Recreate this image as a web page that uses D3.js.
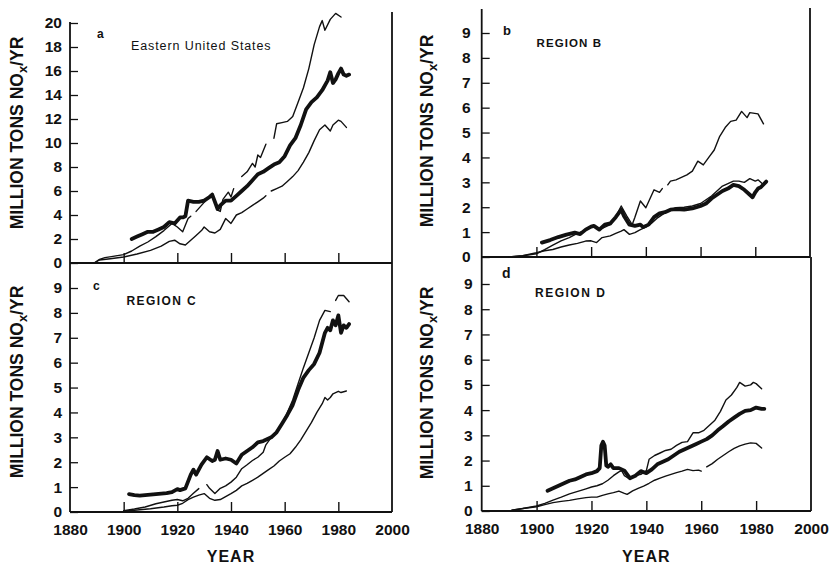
<!DOCTYPE html>
<html><head><meta charset="utf-8">
<script src="https://cdn.jsdelivr.net/npm/d3@7"></script>
<style>
body{margin:0;background:#fff}
svg{display:block}
text{font-family:"Liberation Sans",Arial,Helvetica,sans-serif;fill:#111}
</style>
</head><body>
<svg id="chart" width="835" height="566"></svg>
<script>
// ---------- DATA (year, million tons NOx / yr) ----------
const xTickValues = [1880, 1900, 1920, 1940, 1960, 1980, 2000];
const xInnerTicks = [1900, 1920, 1940, 1960, 1980];
const yTicksA = [0, 2, 4, 6, 8, 10, 12, 14, 16, 18, 20];
const yTicksRegion = [0, 1, 2, 3, 4, 5, 6, 7, 8, 9];
const panelLetters = ["a", "b", "c", "d"];
const panelTitles = ["Eastern United States", "REGION B", "REGION C", "REGION D"];
const yTitle = "MILLION TONS NO";
const xTitle = "YEAR";

// Panel a : Eastern United States
const aMid = [[1903,2.0],[1905,2.2],[1907,2.4],[1909,2.6],[1911,2.6],[1913,2.8],[1915,3.0],[1917,3.4],[1919,3.3],[1921,3.8],[1922,3.8],[1923,3.9],[1924,5.2],[1926,5.1],[1928,5.1],[1930,5.2],[1932,5.5],[1933,5.7],[1935,4.5],[1936,4.8],[1938,5.2],[1940,5.2],[1942,5.6],[1944,6.0],[1946,6.4],[1948,6.9],[1950,7.4],[1952,7.6],[1954,7.9],[1956,8.2],[1958,8.4],[1960,8.9],[1962,9.8],[1964,10.4],[1966,11.5],[1968,12.8],[1970,13.4],[1972,13.8],[1974,14.4],[1976,15.2],[1977,15.9],[1978,15.0],[1979,15.3],[1980,15.8],[1981,16.2],[1982,15.7],[1983,15.6],[1984,15.7]];
const aHigh = [[1889,0],[1891,0.3],[1893,0.45],[1896,0.55],[1900,0.7],[1903,1.0],[1906,1.4],[1909,1.75],[1912,2.2],[1915,2.7],[1918,3.3],[1920,3.0],[1922,2.6],[1924,3.7],[1925,3.9],[1926,null],[1927,4.3],[1929,4.8],[1931,5.3],[1933,5.8],[1935,4.4],[1936,4.3],[1937,5.3],[1939,5.9],[1940,5.5],[1941,6.2],[1942,null],[1944,7.2],[1946,7.6],[1948,8.3],[1949,8.0],[1950,9.0],[1951,8.8],[1953,9.9],[1954,null],[1956,10.4],[1957,11.6],[1959,11.7],[1961,11.8],[1963,12.2],[1965,13.4],[1967,14.6],[1969,16.2],[1971,18.2],[1973,19.7],[1974,20.2],[1975,19.4],[1977,20.3],[1979,20.8],[1981,20.5]];
const aLow = [[1889,0],[1891,0.25],[1895,0.35],[1900,0.5],[1905,0.75],[1910,1.05],[1914,1.4],[1917,1.8],[1919,1.9],[1921,1.6],[1923,1.5],[1925,1.9],[1927,2.3],[1929,2.7],[1930,3.0],[1932,2.6],[1934,2.5],[1936,2.8],[1938,3.7],[1940,3.3],[1942,4.0],[1944,4.2],[1946,4.5],[1948,4.8],[1950,5.1],[1952,5.4],[1953,5.6],[1954,null],[1955,6.0],[1957,6.2],[1959,6.4],[1961,6.8],[1963,7.2],[1965,7.7],[1967,8.4],[1969,9.2],[1971,10.2],[1973,11.1],[1975,11.5],[1977,11.0],[1978,11.5],[1980,11.9],[1981,11.8],[1983,11.3]];

// Panel b : Region B
const bMid = [[1902,0.58],[1905,0.68],[1908,0.8],[1911,0.9],[1914,0.98],[1916,0.92],[1918,1.1],[1920,1.22],[1921,1.25],[1923,1.1],[1925,1.3],[1927,1.35],[1929,1.6],[1931,1.9],[1932,1.65],[1934,1.3],[1936,1.25],[1938,1.3],[1939,1.2],[1941,1.3],[1943,1.6],[1945,1.75],[1947,1.8],[1949,1.9],[1951,1.92],[1954,1.9],[1957,1.95],[1960,2.05],[1962,2.15],[1964,2.35],[1966,2.5],[1968,2.65],[1970,2.75],[1972,2.9],[1974,2.85],[1976,2.7],[1978,2.5],[1979,2.4],[1980,2.6],[1981,2.75],[1982,2.8],[1984,3.03]];
const bHigh = [[1890,0],[1895,0.05],[1900,0.13],[1903,0.3],[1906,0.48],[1909,0.65],[1912,0.78],[1915,0.95],[1917,1.04],[1919,1.15],[1921,1.24],[1923,1.1],[1925,1.2],[1927,1.3],[1929,1.6],[1931,2.05],[1933,1.65],[1935,1.3],[1936,1.6],[1938,2.25],[1940,1.98],[1943,2.7],[1945,2.6],[1946,2.75],[1947,null],[1948,2.9],[1949,3.05],[1951,3.1],[1953,3.2],[1955,3.3],[1957,3.45],[1959,3.85],[1961,3.7],[1963,4.0],[1965,4.3],[1967,4.85],[1969,5.2],[1971,5.45],[1973,5.5],[1975,5.85],[1977,5.6],[1978,5.8],[1981,5.75],[1983,5.35]];
const bLow = [[1890,0],[1895,0.05],[1900,0.17],[1903,0.25],[1906,0.3],[1909,0.4],[1912,0.48],[1915,0.55],[1918,0.64],[1920,0.65],[1922,0.58],[1924,0.78],[1927,0.85],[1929,0.95],[1931,1.04],[1932,1.1],[1934,0.91],[1936,0.98],[1938,1.1],[1940,1.2],[1942,1.35],[1944,1.55],[1946,1.7],[1948,1.85],[1951,1.98],[1954,2.0],[1957,2.05],[1960,2.15],[1962,2.3],[1964,2.45],[1966,2.65],[1968,2.85],[1970,2.95],[1972,3.05],[1974,3.05],[1976,3.0],[1978,3.15],[1980,3.05],[1981,3.1],[1983,2.9]];

// Panel c : Region C
const cMid = [[1902,0.72],[1904,0.68],[1906,0.66],[1908,0.68],[1910,0.7],[1912,0.72],[1914,0.74],[1916,0.76],[1918,0.8],[1920,0.92],[1921,0.88],[1923,0.95],[1925,1.5],[1926,1.7],[1927,1.5],[1929,1.9],[1931,2.2],[1933,2.05],[1934,2.1],[1935,2.45],[1936,2.1],[1938,2.15],[1940,2.1],[1942,1.95],[1944,2.3],[1946,2.45],[1948,2.6],[1950,2.8],[1952,2.85],[1955,3.0],[1957,3.2],[1959,3.55],[1961,3.9],[1963,4.3],[1965,4.9],[1967,5.4],[1969,5.7],[1971,5.95],[1973,6.4],[1975,7.2],[1976,7.4],[1977,7.3],[1978,7.7],[1979,7.5],[1980,7.9],[1981,7.2],[1982,7.5],[1983,7.4],[1984,7.55]];
const cHigh = [[1900,0.05],[1904,0.12],[1908,0.2],[1912,0.33],[1915,0.4],[1918,0.47],[1920,0.5],[1922,0.45],[1924,0.55],[1926,0.75],[1928,0.94],[1929,null],[1931,1.1],[1932,0.95],[1934,0.74],[1936,0.95],[1938,1.05],[1940,1.2],[1942,1.4],[1944,1.74],[1946,1.9],[1948,2.07],[1950,2.2],[1952,2.4],[1953,2.7],[1955,3.0],[1957,3.25],[1959,3.55],[1961,4.0],[1963,4.5],[1965,5.15],[1967,5.8],[1969,6.4],[1971,7.0],[1973,7.7],[1975,8.1],[1977,8.05],[1978,null],[1979,8.5],[1980,8.7],[1982,8.7],[1984,8.45]];
const cLow = [[1900,0.03],[1905,0.08],[1910,0.13],[1915,0.2],[1918,0.25],[1920,0.27],[1922,0.35],[1924,0.5],[1926,0.6],[1928,0.68],[1930,0.74],[1932,0.55],[1934,0.47],[1936,0.5],[1938,0.62],[1940,0.74],[1942,0.87],[1944,1.05],[1946,1.15],[1948,1.27],[1950,1.4],[1952,1.55],[1954,1.7],[1956,1.85],[1958,2.05],[1960,2.2],[1962,2.34],[1964,2.6],[1966,2.9],[1968,3.25],[1970,3.6],[1972,4.0],[1974,4.35],[1975,4.6],[1976,4.5],[1977,4.6],[1978,4.75],[1980,4.85],[1981,4.8],[1983,4.86]];

// Panel d : Region D
const dMid = [[1904,0.8],[1906,0.9],[1908,1.0],[1910,1.1],[1912,1.2],[1914,1.25],[1916,1.35],[1918,1.45],[1920,1.5],[1922,1.58],[1923,1.7],[1923.6,2.6],[1924.2,2.75],[1924.8,2.6],[1925.4,1.8],[1926,1.75],[1927,1.85],[1928,1.7],[1930,1.7],[1932,1.6],[1933,1.45],[1934,1.3],[1936,1.4],[1938,1.58],[1940,1.5],[1942,1.65],[1944,1.85],[1946,1.95],[1948,2.05],[1950,2.2],[1952,2.35],[1954,2.45],[1956,2.55],[1958,2.65],[1960,2.75],[1962,2.85],[1964,3.0],[1966,3.2],[1968,3.37],[1970,3.55],[1972,3.7],[1974,3.85],[1976,3.97],[1978,4.0],[1980,4.1],[1982,4.05],[1983,4.05]];
const dHigh = [[1891,0.03],[1895,0.1],[1900,0.2],[1903,0.3],[1906,0.43],[1909,0.55],[1912,0.68],[1915,0.78],[1918,0.88],[1920,0.95],[1922,1.0],[1924,1.08],[1926,1.22],[1928,1.4],[1930,1.55],[1931,1.6],[1932,1.4],[1934,1.26],[1936,1.4],[1938,1.45],[1940,1.6],[1941,2.05],[1943,2.2],[1945,2.3],[1947,2.4],[1949,2.45],[1951,2.6],[1953,2.72],[1955,2.75],[1957,3.1],[1959,3.1],[1961,3.2],[1963,3.4],[1965,3.6],[1967,3.95],[1969,4.4],[1971,4.6],[1973,4.9],[1974,5.1],[1976,4.95],[1978,5.0],[1979,5.1],[1980,5.05],[1982,4.85]];
const dLow = [[1891,0.03],[1895,0.1],[1900,0.17],[1903,0.25],[1906,0.33],[1909,0.38],[1912,0.42],[1915,0.48],[1918,0.53],[1920,0.55],[1922,0.55],[1924,0.62],[1926,0.68],[1928,0.73],[1930,0.79],[1932,0.7],[1933,0.66],[1935,0.8],[1937,0.9],[1939,0.99],[1941,1.1],[1943,1.22],[1945,1.3],[1947,1.38],[1949,1.45],[1951,1.52],[1953,1.58],[1955,1.65],[1957,1.6],[1959,1.62],[1960,1.58],[1961,null],[1962,1.75],[1964,1.88],[1966,2.05],[1968,2.2],[1970,2.35],[1972,2.48],[1974,2.58],[1976,2.65],[1978,2.7],[1980,2.68],[1982,2.5]];

// ---------- LAYOUT ----------
const panels = [
  {x0:70, x1:392, yb:263, yt:23, ymax:20, axisTop:22, rightTop:12, yTicks:yTicksA, xLabels:false, yPad:8,
   letter:[97,38,12], title:[131,50], titleStyle:{size:12.5, weight:"normal", ls:0.9}, yTitle:[23,133],
   series:[[aHigh,1.4],[aLow,1.4],[aMid,3.8]]},
  {x0:481.7, x1:810, yb:257, yt:33, ymax:9, axisTop:9, rightTop:8, yTicks:yTicksRegion, xLabels:false, yPad:11,
   letter:[503,35,13], title:[536.5,47], titleStyle:{size:11.5, weight:"bold", ls:1.1}, yTitle:[433,131],
   series:[[bHigh,1.4],[bLow,1.4],[bMid,3.8]]},
  {x0:70, x1:392, yb:512, yt:288, ymax:9, axisTop:263, rightTop:263, yTicks:yTicksRegion, xLabels:true, xPad:11.5, yPad:8,
   letter:[93,290,12], title:[126.5,305], titleStyle:{size:12, weight:"bold", ls:1.4}, yTitle:[23,382],
   series:[[cHigh,1.4],[cLow,1.4],[cMid,3.8]]},
  {x0:481.7, x1:811, yb:511, yt:284, ymax:9, axisTop:257, rightTop:257, yTicks:yTicksRegion, xLabels:true, xPad:11.5, yPad:9,
   letter:[502,278,14], title:[535,297], titleStyle:{size:12, weight:"bold", ls:1.5}, yTitle:[433,383],
   series:[[dHigh,1.4],[dLow,1.4],[dMid,3.8]]}
];

const svg = d3.select("#chart");
const ink = "#111";

panels.forEach((p, i) => {
  const x = d3.scaleLinear().domain([xTickValues[0], xTickValues[xTickValues.length-1]]).range([p.x0, p.x1]);
  const y = d3.scaleLinear().domain([0, p.ymax]).range([p.yb, p.yt]);
  const g = svg.append("g");

  // frame lines
  g.append("line").attr("x1", p.x0).attr("x2", p.x0).attr("y1", p.axisTop).attr("y2", p.yb)
    .attr("stroke", ink).attr("stroke-width", 1.8);
  g.append("line").attr("x1", p.x1).attr("x2", p.x1).attr("y1", p.rightTop).attr("y2", p.yb)
    .attr("stroke", ink).attr("stroke-width", 1.8);
  g.append("line").attr("x1", p.x0).attr("x2", p.x1).attr("y1", p.yb).attr("y2", p.yb)
    .attr("stroke", ink).attr("stroke-width", 2);

  // y axis
  const ya = g.append("g").attr("transform", `translate(${p.x0},0)`)
    .call(d3.axisLeft(y).tickValues(p.yTicks).tickSize(-8).tickSizeOuter(0).tickPadding(p.yPad).tickFormat(d3.format("d")));
  ya.select(".domain").remove();
  ya.selectAll(".tick line").attr("stroke", ink).attr("stroke-width", 1.3);
  ya.selectAll(".tick text").attr("font-size", 15.5).attr("font-weight", "bold")
    .attr("font-family", '"Liberation Sans",Arial,sans-serif').attr("fill", ink);

  // x axis (ticks inward)
  const xa = g.append("g").attr("transform", `translate(0,${p.yb})`)
    .call(d3.axisBottom(x).tickValues(p.xLabels ? xTickValues : xInnerTicks).tickSize(-10).tickSizeOuter(0)
      .tickPadding(p.xPad || 0).tickFormat(p.xLabels ? d3.format("d") : () => ""));
  xa.select(".domain").remove();
  xa.selectAll(".tick line").attr("stroke", ink).attr("stroke-width", 1.4)
    .attr("display", d => (d === 1880 || d === 2000) ? "none" : null);
  xa.selectAll(".tick text").attr("font-size", 15.5).attr("font-weight", "bold")
    .attr("font-family", '"Liberation Sans",Arial,sans-serif').attr("fill", ink);

  if (p.xLabels) {
    g.append("text").attr("x", (p.x0 + p.x1) / 2).attr("y", 562).attr("text-anchor", "middle")
      .attr("font-size", 16).attr("font-weight", "bold").attr("letter-spacing", 1).text(xTitle);
  }

  // y title (rotated) with subscript x
  const yt = g.append("text").attr("transform", `translate(${p.yTitle[0]},${p.yTitle[1]}) rotate(-90)`)
    .attr("text-anchor", "middle").attr("font-size", 17.5).attr("font-weight", "bold");
  yt.append("tspan").text(yTitle);
  yt.append("tspan").attr("dy", 4).attr("font-size", 13).text("x");
  yt.append("tspan").attr("dy", -4).text("/YR");

  // panel letter and title
  g.append("text").attr("x", p.letter[0]).attr("y", p.letter[1]).attr("font-size", p.letter[2])
    .attr("font-weight", "bold").text(panelLetters[i]);
  g.append("text").attr("x", p.title[0]).attr("y", p.title[1]).attr("font-size", p.titleStyle.size)
    .attr("font-weight", p.titleStyle.weight).attr("letter-spacing", p.titleStyle.ls).text(panelTitles[i]);

  // series
  const line = d3.line().defined(d => d[1] !== null).x(d => x(d[0])).y(d => y(d[1]));
  p.series.forEach(([data, w]) => {
    g.append("path").datum(data).attr("d", line).attr("fill", "none")
      .attr("stroke", ink).attr("stroke-width", w).attr("stroke-linejoin", "round").attr("stroke-linecap", "round");
  });
});
</script>
</body></html>
